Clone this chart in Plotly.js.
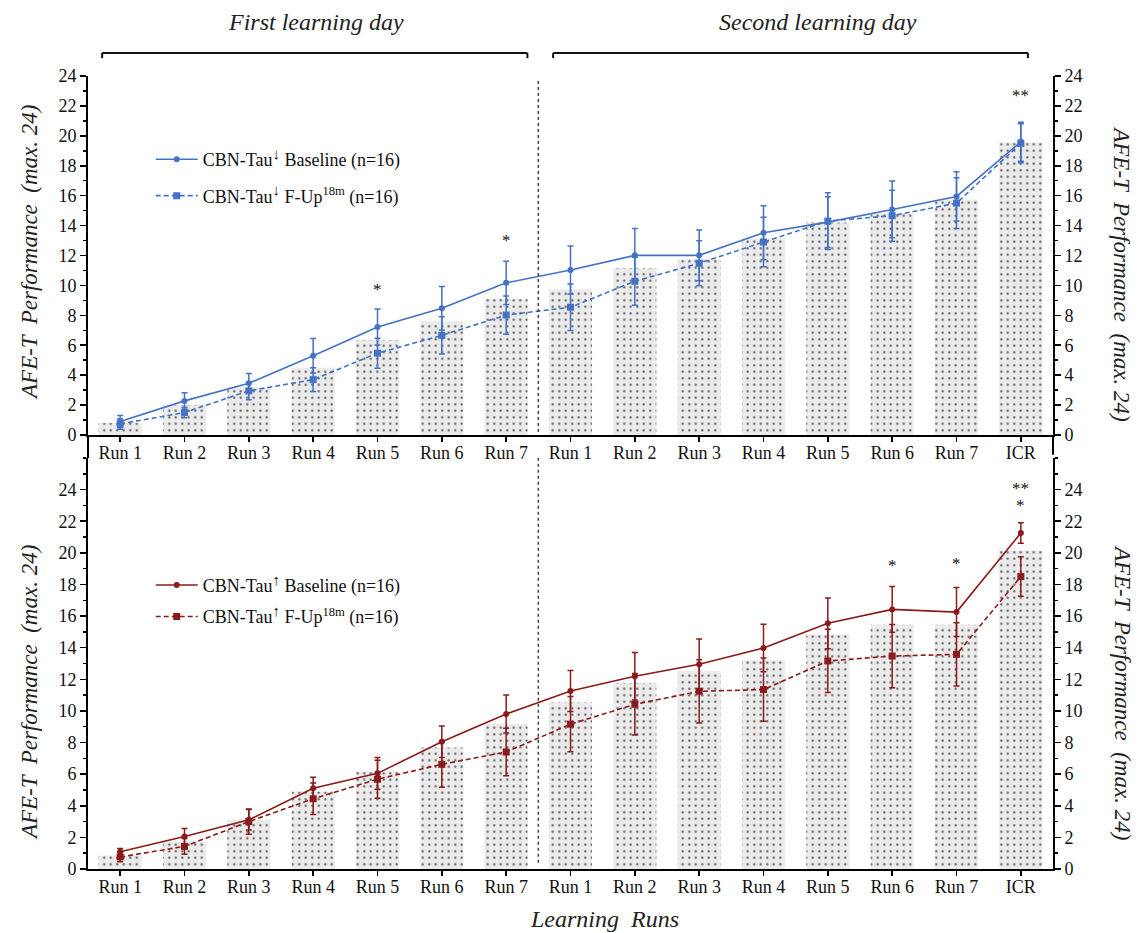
<!DOCTYPE html>
<html>
<head>
<meta charset="utf-8">
<script src="https://cdn.plot.ly/plotly-3.0.1.min.js"></script>
<style>html,body{margin:0;padding:0;background:#fff;}#chart{width:1139px;height:933px;}</style>
</head>
<body>
<div id="chart"></div>
<script>
// ---------- data ----------
const labels = ['Run 1','Run 2','Run 3','Run 4','Run 5','Run 6','Run 7','Run 1','Run 2','Run 3','Run 4','Run 5','Run 6','Run 7','ICR'];

// upper panel: CBN-Tau↓
const barsDown    = [0.8, 2.0, 3.2, 4.5, 6.35, 7.6, 9.1, 9.75, 11.15, 11.75, 13.15, 14.2, 14.8, 15.75, 19.55];
const baseDown    = [0.9, 2.28, 3.46, 5.3, 7.22, 8.47, 10.17, 11.03, 12.01, 12.01, 13.52, 14.23, 15.08, 15.95, 19.6];
const baseDownErr = [0.4, 0.55, 0.65, 1.15, 1.2, 1.45, 1.45, 1.6, 1.8, 1.7, 1.8, 1.7, 1.9, 1.65, 1.3];
const fupDown     = [0.74, 1.5, 2.95, 3.7, 5.47, 6.66, 8.02, 8.54, 10.28, 11.48, 12.9, 14.3, 14.66, 15.5, 19.5];
const fupDownErr  = [0.35, 0.35, 0.6, 0.8, 1.0, 1.25, 1.28, 1.55, 1.6, 1.5, 1.65, 1.9, 1.7, 1.7, 1.3];

// lower panel: CBN-Tau↑
const barsUp      = [0.86, 1.74, 3.1, 4.9, 6.16, 7.69, 9.17, 10.53, 11.77, 12.53, 13.2, 14.84, 15.45, 15.45, 20.13];
const baseUp      = [1.09, 2.06, 3.11, 5.11, 6.05, 8.05, 9.8, 11.26, 12.19, 12.95, 13.98, 15.54, 16.42, 16.25, 21.26];
const baseUpErr   = [0.2, 0.5, 0.65, 0.7, 1.0, 1.0, 1.2, 1.3, 1.5, 1.6, 1.5, 1.6, 1.45, 1.55, 0.65];
const fupUp       = [0.76, 1.43, 3.0, 4.44, 5.68, 6.62, 7.4, 9.16, 10.42, 11.24, 11.35, 13.16, 13.47, 13.58, 18.5];
const fupUpErr    = [0.3, 0.5, 0.8, 1.0, 1.2, 1.45, 1.5, 1.75, 1.95, 2.0, 2.0, 2.0, 2.0, 2.0, 1.25];

// significance marks (run index, label, height)
const starsDownIdx = [4, 6, 14];
const starsDownTxt = ['*', '*', '**'];
const starsDownY   = [9.7, 13.0, 22.7];
const starsUpIdx   = [12, 13, 14, 14];
const starsUpTxt   = ['*', '*', '**', '*'];
const starsUpY     = [19.2, 19.3, 24.1, 23.0];

const dayLabels = ['First learning day', 'Second learning day'];
const yTitle = 'AFE-T  Performance  (max. 24)';
const xTitle = 'Learning  Runs';

// ---------- styling ----------
const FONT = 'Liberation Serif, Times New Roman, serif';
const BLUE = '#4472c4';
const RED = '#8b1a1a';
const xs = labels.map((_, i) => i);
const ARROW_DOWN = '<sup><span style="font-size:15px">↓</span></sup>';
const ARROW_UP = '<sup><span style="font-size:15px">↑</span></sup>';

function barTrace(y, xa, ya) {
  return {
    type: 'bar', x: xs, y: y, xaxis: xa, yaxis: ya, width: 0.67, showlegend: false, hoverinfo: 'skip',
    marker: { color: '#ebebeb', line: { width: 0 },
      pattern: { shape: '.', fillmode: 'replace', bgcolor: '#ebebeb', fgcolor: '#555', size: 6.5, solidity: 0.09 } }
  };
}
function lineTrace(y, err, name, color, dashed, xa, ya, leg) {
  return {
    type: 'scatter', mode: 'lines+markers', x: xs, y: y, xaxis: xa, yaxis: ya, name: name, legend: leg,
    legendgroup: name,
    line: { color: color, width: 1.6, dash: dashed ? '5px,3px' : 'solid' },
    marker: { color: color, size: dashed ? 7 : 6, symbol: dashed ? 'square' : 'circle' },
    error_y: { type: 'data', array: err, visible: true, color: color, thickness: 1.5, width: 3 }
  };
}

const data = [
  barTrace(barsDown, 'x', 'y'),
  lineTrace(baseDown, baseDownErr, 'CBN-Tau' + ARROW_DOWN + ' Baseline (n=16)', BLUE, false, 'x', 'y', 'legend'),
  lineTrace(fupDown, fupDownErr, 'CBN-Tau' + ARROW_DOWN + ' F-Up<sup>18m</sup> (n=16)', BLUE, true, 'x', 'y', 'legend'),
  barTrace(barsUp, 'x2', 'y2'),
  lineTrace(baseUp, baseUpErr, 'CBN-Tau' + ARROW_UP + ' Baseline (n=16)', RED, false, 'x2', 'y2', 'legend2'),
  lineTrace(fupUp, fupUpErr, 'CBN-Tau' + ARROW_UP + ' F-Up<sup>18m</sup> (n=16)', RED, true, 'x2', 'y2', 'legend2'),
  // helper traces so the right-hand axes are drawn
  { type: 'scatter', x: [xs[0]], y: [null], xaxis: 'x', yaxis: 'y3', showlegend: false, hoverinfo: 'skip' },
  { type: 'scatter', x: [xs[0]], y: [null], xaxis: 'x2', yaxis: 'y4', showlegend: false, hoverinfo: 'skip' }
];

const topDomain = [0.5473, 1];
const botDomain = [0, 0.5183];

function xAxis(anchor) {
  return {
    anchor: anchor, domain: [0, 1], range: [-0.5, 14.5], tickmode: 'array', tickvals: xs, ticktext: labels,
    ticks: 'outside', ticklen: 5, tickwidth: 1.5, tickcolor: '#000', showline: true, linecolor: '#000', linewidth: 2,
    showgrid: false, zeroline: false, tickfont: { family: FONT, size: 18, color: '#111' }, fixedrange: true,
    ticklabelstandoff: -5
  };
}
function yAxis(domain, range, side, overlay, anchor) {
  const a = {
    domain: domain, range: range, tickmode: 'array', tickvals: [0,2,4,6,8,10,12,14,16,18,20,22,24],
    ticks: 'outside', ticklen: 6, tickwidth: 1.5, tickcolor: '#000', showline: true, linecolor: '#000', linewidth: 2,
    minor: { dtick: 1, ticklen: 3, tickwidth: 1.5, tickcolor: '#000', ticks: 'outside', showgrid: false },
    showgrid: false, zeroline: false, tickfont: { family: FONT, size: 18, color: '#111' }, side: side, fixedrange: true
  };
  if (overlay) a.overlaying = overlay; else a.anchor = anchor;
  return a;
}

const annotations = [];
starsDownIdx.forEach((idx, i) => annotations.push({ x: idx, y: starsDownY[i], xref: 'x', yref: 'y', text: starsDownTxt[i],
  showarrow: false, yanchor: 'middle', font: { family: FONT, size: 17, color: '#111' } }));
starsUpIdx.forEach((idx, i) => annotations.push({ x: idx, y: starsUpY[i], xref: 'x2', yref: 'y2', text: starsUpTxt[i],
  showarrow: false, yanchor: 'middle', font: { family: FONT, size: 17, color: '#111' } }));
// day labels
annotations.push({ x: 3.05, y: 1.0675, xref: 'x', yref: 'paper', text: '<i>' + dayLabels[0] + '</i>', showarrow: false,
  xanchor: 'center', yanchor: 'middle', font: { family: FONT, size: 24, color: '#222' } });
annotations.push({ x: 10.85, y: 1.0675, xref: 'x', yref: 'paper', text: '<i>' + dayLabels[1] + '</i>', showarrow: false,
  xanchor: 'center', yanchor: 'middle', font: { family: FONT, size: 24, color: '#222' } });
// y titles
const titleFont = { family: FONT, size: 23, color: '#222' };
[[0.777, -90, -0.060], [0.222, -90, -0.060], [0.75, 90, 1.0715], [0.222, 90, 1.0715]].forEach(t => {
  annotations.push({ x: t[2], y: t[0], xref: 'paper', yref: 'paper', text: '<i>' + yTitle + '</i>', textangle: t[1],
    showarrow: false, xanchor: 'center', yanchor: 'middle', font: titleFont });
});
annotations.push({ x: 0.535, y: -0.0625, xref: 'paper', yref: 'paper', text: '<i>' + xTitle + '</i>', showarrow: false,
  xanchor: 'center', yanchor: 'middle', font: { family: FONT, size: 24, color: '#222' } });

const shapes = [];
function bracket(x0, x1) {
  shapes.push({ type: 'line', xref: 'x', yref: 'paper', x0: x0, x1: x1, y0: 1.0290, y1: 1.0290, line: { color: '#111', width: 2 } });
  shapes.push({ type: 'line', xref: 'x', yref: 'paper', x0: x0, x1: x0, y0: 1.0290, y1: 1.0225, line: { color: '#111', width: 2 } });
  shapes.push({ type: 'line', xref: 'x', yref: 'paper', x0: x1, x1: x1, y0: 1.0290, y1: 1.0225, line: { color: '#111', width: 2 } });
}
bracket(-0.28, 6.33);
bracket(6.73, 14.11);
// day separators
shapes.push({ type: 'line', xref: 'x', yref: 'y', x0: 6.5, x1: 6.5, y0: 0.2, y1: 23.7, line: { color: '#444', width: 1.5, dash: 'dot' } });
shapes.push({ type: 'line', xref: 'x2', yref: 'y2', x0: 6.5, x1: 6.5, y0: 0.4, y1: 26, line: { color: '#444', width: 1.5, dash: 'dot' } });
// join axis lines between panels
shapes.push({ type: 'line', xref: 'paper', yref: 'paper', x0: 0, x1: 0, y0: botDomain[1], y1: topDomain[0], line: { color: '#000', width: 2 } });
shapes.push({ type: 'line', xref: 'paper', yref: 'paper', x0: 1, x1: 1, y0: botDomain[1] + 0.004, y1: topDomain[0], line: { color: '#000', width: 2 } });

const layout = {
  width: 1139, height: 933,
  margin: { l: 88, r: 86, t: 76, b: 64 },
  paper_bgcolor: '#fff', plot_bgcolor: 'rgba(0,0,0,0)',
  font: { family: FONT, color: '#111' },
  barmode: 'overlay',
  xaxis: xAxis('y'),
  xaxis2: xAxis('y2'),
  yaxis: yAxis(topDomain, [0, 24], 'left', null, 'x'),
  yaxis3: yAxis(topDomain, [0, 24], 'right', 'y', null),
  yaxis2: yAxis(botDomain, [0, 26], 'left', null, 'x2'),
  yaxis4: yAxis(botDomain, [0, 26], 'right', 'y2', null),
  legend: { x: 0.065, y: 0.918, xanchor: 'left', yanchor: 'top', bgcolor: 'rgba(0,0,0,0)', tracegroupgap: 10,
    itemwidth: 42, font: { family: FONT, size: 18, color: '#111' } },
  legend2: { x: 0.065, y: 0.381, xanchor: 'left', yanchor: 'top', bgcolor: 'rgba(0,0,0,0)', tracegroupgap: 5,
    itemwidth: 42, font: { family: FONT, size: 18, color: '#111' } },
  annotations: annotations,
  shapes: shapes,
  showlegend: true
};

Plotly.newPlot('chart', data, layout, { displayModeBar: false, staticPlot: true });
</script>
</body>
</html>
